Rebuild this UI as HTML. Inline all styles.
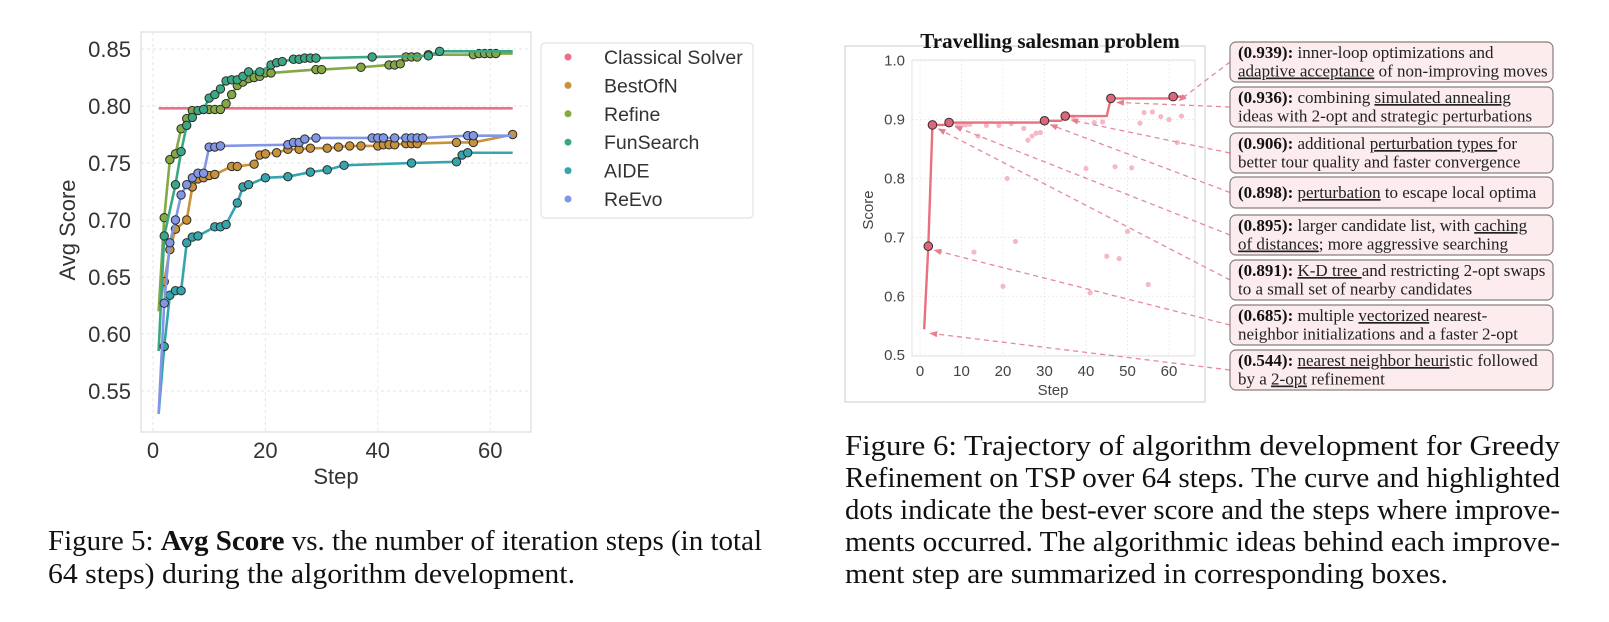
<!DOCTYPE html>
<html><head><meta charset="utf-8"><style>
html,body{margin:0;padding:0;background:#fff;}
svg{display:block;}
.sans{font-family:"Liberation Sans",Arial,sans-serif;}
.serif{font-family:"Liberation Serif","Times New Roman",serif;}
</style></head><body>
<svg id="fig" width="1609" height="622" viewBox="0 0 1609 622" xmlns="http://www.w3.org/2000/svg">
<defs>
<clipPath id="lclip"><rect x="141" y="32" width="390" height="400"/></clipPath>
<marker id="ah" viewBox="0 0 10 10" refX="9" refY="5" markerWidth="6" markerHeight="6" orient="auto-start-reverse"><path d="M0,1 L10,5 L0,9 z" fill="#e87f90"/></marker>
</defs>
<g id="left"></g>
<g id="legend"></g>
<g id="right"></g>
<g id="boxes"></g>
<g class="serif" font-size="28" fill="#111">
<text x="48" y="550" textLength="714" lengthAdjust="spacingAndGlyphs">Figure 5: <tspan font-weight="bold">Avg Score</tspan> vs. the number of iteration steps (in total</text>
<text x="48" y="583" textLength="527" lengthAdjust="spacingAndGlyphs">64 steps) during the algorithm development.</text>
</g>
<g class="serif" font-size="28" fill="#111">
<text x="845" y="455" textLength="715" lengthAdjust="spacingAndGlyphs">Figure 6: Trajectory of algorithm development for Greedy</text>
<text x="845" y="487" textLength="715" lengthAdjust="spacingAndGlyphs">Refinement on TSP over 64 steps. The curve and highlighted</text>
<text x="845" y="519" textLength="715" lengthAdjust="spacingAndGlyphs">dots indicate the best-ever score and the steps where improve-</text>
<text x="845" y="551" textLength="715" lengthAdjust="spacingAndGlyphs">ments occurred. The algorithmic ideas behind each improve-</text>
<text x="845" y="583" textLength="603" lengthAdjust="spacingAndGlyphs">ment step are summarized in corresponding boxes.</text>
</g>
</svg>
<script>
// ---------- Left chart data ----------
const seriesNames = ["Classical Solver","BestOfN","Refine","FunSearch","AIDE","ReEvo"];
const classicalSteps = [1,64];
const classicalVals = [0.798,0.798];
const bestofnSteps = [1,2,3,4,6,7,8,9,10,11,14,15,18,19,20,22,24,26,28,31,33,35,37,40,41,42,43,45,46,47,54,57,64];
const bestofnVals = [0.62,0.646,0.674,0.692,0.700,0.729,0.736,0.737,0.739,0.740,0.747,0.747,0.749,0.757,0.758,0.759,0.762,0.762,0.763,0.763,0.764,0.765,0.765,0.765,0.766,0.766,0.766,0.767,0.767,0.767,0.768,0.768,0.775];
const refineSteps = [1,2,3,4,5,6,7,9,10,11,12,13,14,15,16,17,18,19,20,21,29,30,37,42,43,44,45,46,47,49,57,58,59,60,61,64];
const refineVals = [0.62,0.702,0.753,0.758,0.780,0.789,0.796,0.797,0.797,0.797,0.797,0.802,0.810,0.818,0.821,0.824,0.825,0.826,0.829,0.829,0.832,0.832,0.834,0.836,0.836,0.837,0.843,0.843,0.843,0.845,0.845,0.846,0.846,0.846,0.846,0.846];
const funsearchSteps = [1,2,4,5,6,7,8,9,10,11,12,13,14,15,16,17,19,21,22,23,25,26,27,28,29,39,49,51,64];
const funsearchVals = [0.585,0.686,0.731,0.760,0.783,0.790,0.796,0.797,0.807,0.810,0.815,0.822,0.823,0.823,0.826,0.830,0.830,0.836,0.838,0.839,0.841,0.841,0.842,0.842,0.842,0.843,0.844,0.848,0.848];
const aideSteps = [1,2,3,4,5,6,7,8,11,12,13,15,16,17,20,24,28,31,34,46,54,55,56,64];
const aideVals = [0.53,0.589,0.634,0.638,0.638,0.680,0.685,0.686,0.694,0.694,0.696,0.715,0.729,0.731,0.737,0.738,0.742,0.744,0.748,0.750,0.751,0.757,0.759,0.759];
const reevoSteps = [1,2,3,4,5,6,7,8,9,10,11,12,24,25,26,27,29,39,40,41,43,45,46,47,48,56,57,64];
const reevoVals = [0.53,0.627,0.680,0.700,0.722,0.731,0.737,0.741,0.741,0.764,0.764,0.765,0.766,0.768,0.768,0.771,0.772,0.772,0.772,0.772,0.772,0.772,0.772,0.772,0.772,0.774,0.774,0.774];
const leftXTicks = [0,20,40,60];
const leftYTicks = [0.55,0.60,0.65,0.70,0.75,0.80,0.85];
const leftYTickLabels = ["0.55","0.60","0.65","0.70","0.75","0.80","0.85"];

// ---------- Right chart data ----------
const impSteps = [1,2,3,7,30,35,46,61];
const impVals = [0.544,0.685,0.891,0.895,0.898,0.906,0.936,0.939];
const scatterSteps = [9,10,11,12,13,14,16,19,20,21,22,23,25,26,27,28,29,37,40,41,42,44,45,47,48,50,51,53,54,55,56,58,60,62,63];
const scatterVals = [0.89,0.89,0.891,0.892,0.675,0.872,0.89,0.89,0.617,0.80,0.893,0.693,0.885,0.865,0.872,0.877,0.878,0.904,0.817,0.606,0.895,0.896,0.668,0.82,0.664,0.71,0.818,0.894,0.912,0.62,0.913,0.905,0.90,0.861,0.906];
const rightXTicks = [0,10,20,30,40,50,60];
const rightYTicks = [0.5,0.6,0.7,0.8,0.9,1.0];
const rightYTickLabels = ["0.5","0.6","0.7","0.8","0.9","1.0"];
const boxScores = ["(0.939):","(0.936):","(0.906):","(0.898):","(0.895):","(0.891):","(0.685):","(0.544):"];
const boxTargets = [61,46,35,30,7,3,2,1];

const NS="http://www.w3.org/2000/svg";
function mk(tag, parent, attrs){const e=document.createElementNS(NS,tag);for(const k in attrs)e.setAttribute(k,attrs[k]);parent.appendChild(e);return e;}

// ---------- Left chart ----------
const L=document.getElementById('left');
const lx=s=>153+s*5.62;
const ly=v=>49+(0.85-v)*1140;
const lframe=mk('rect',L,{x:141,y:32,width:390,height:400,fill:'#fff',stroke:'#dcdcdc','stroke-width':1.2});


leftXTicks.forEach(t=>{
  const g=mk('line',L,{x1:lx(t),x2:lx(t),y1:32,y2:432,stroke:'#e6e6e6','stroke-dasharray':'3,3'});
  
  
  const tx=mk('text',L,{x:lx(t),y:458,'text-anchor':'middle','font-size':22,fill:'#333',class:'sans'});
  tx.textContent=t;
  
  
});
leftYTicks.forEach((t,i)=>{
  const g=mk('line',L,{x1:141,x2:531,y1:ly(t),y2:ly(t),stroke:'#e6e6e6','stroke-dasharray':'3,3'});
  
  
  const tx=mk('text',L,{x:131,y:ly(t)+8,'text-anchor':'end','font-size':22,fill:'#333',class:'sans'});
  tx.textContent=leftYTickLabels[i];
  
  
});
const xt=mk('text',L,{x:336,y:484,'text-anchor':'middle','font-size':22,fill:'#333',class:'sans'});
xt.textContent='Step';


const yt=mk('text',L,{x:0,y:0,'text-anchor':'middle','font-size':22,fill:'#333',class:'sans',transform:'translate(75,230) rotate(-90)'});
yt.textContent='Avg Score';



const colors=["#ee6f88","#c8913a","#84a843","#3aa884","#35a5ad","#8296e6"];
const allSteps=[classicalSteps,bestofnSteps,refineSteps,funsearchSteps,aideSteps,reevoSteps];
const allVals=[classicalVals,bestofnVals,refineVals,funsearchVals,aideVals,reevoVals];
const LC=mk('g',L,{'clip-path':'url(#lclip)'});
allSteps.forEach((st,si)=>{
  const g=mk('g',LC,{});
  
  
  const pts=st.map((s,i)=>lx(s)+','+ly(allVals[si][i])).join(' ');
  const pl=mk('polyline',g,{points:pts,fill:'none',stroke:colors[si],'stroke-width':2.6,'stroke-linejoin':'round'});
  
  
  if(si>0){
    st.forEach((s,i)=>{
      if(i===0) return;
      if(i===st.length-1 && si!==1) return;
      const c=mk('circle',g,{cx:lx(s),cy:ly(allVals[si][i]),r:4.2,fill:colors[si],stroke:'#2b2b2b','stroke-width':1});
      
      
    });
  }
});

// ---------- Legend ----------
const LG=document.getElementById('legend');
const lb=mk('rect',LG,{x:541,y:43,width:212,height:175,rx:4,fill:'#fff',stroke:'#e2e2e2','stroke-width':1.2});


seriesNames.forEach((n,i)=>{
  const y=57+i*28.4;
  const g=mk('g',LG,{});
  
  
  mk('circle',g,{cx:568,cy:y,r:3.5,fill:colors[i]});
  const t=mk('text',g,{x:604,y:y+7,'font-size':19.5,fill:'#333',class:'sans'});
  t.textContent=n;
});

// ---------- Right chart ----------
const R=document.getElementById('right');
const rx=s=>920+s*4.15;
const ry=v=>60.7+(1-v)*589;
const of=mk('rect',R,{x:845,y:46,width:360,height:356,fill:'#fff',stroke:'#d6d6d6','stroke-width':1.2});


const pa=mk('rect',R,{x:912,y:60,width:283,height:296,fill:'#fff',stroke:'#e2e2e2','stroke-width':1});


const ttl=mk('text',R,{x:1050,y:48,'text-anchor':'middle','font-size':21,'font-weight':'bold',fill:'#111',class:'serif'});
ttl.textContent='Travelling salesman problem';


rightXTicks.forEach(t=>{
  const g=mk('line',R,{x1:rx(t),x2:rx(t),y1:60,y2:356,stroke:'#ececec','stroke-dasharray':'2,2'});
  
  
  const tx=mk('text',R,{x:rx(t),y:376,'text-anchor':'middle','font-size':15,fill:'#444',class:'sans'});
  tx.textContent=t;
  
  
});
rightYTicks.forEach((t,i)=>{
  const g=mk('line',R,{x1:912,x2:1195,y1:ry(t),y2:ry(t),stroke:'#ececec','stroke-dasharray':'2,2'});
  
  
  const tx=mk('text',R,{x:905,y:ry(t)+5,'text-anchor':'end','font-size':15,fill:'#444',class:'sans'});
  tx.textContent=rightYTickLabels[i];
  
  
});
const rxt=mk('text',R,{x:1053,y:395,'text-anchor':'middle','font-size':15,fill:'#444',class:'sans'});
rxt.textContent='Step';


const ryt=mk('text',R,{x:0,y:0,'text-anchor':'middle','font-size':15,fill:'#444',class:'sans',transform:'translate(873,210) rotate(-90)'});
ryt.textContent='Score';


scatterSteps.forEach((s,i)=>{
  const c=mk('circle',R,{cx:rx(s),cy:ry(scatterVals[i]),r:2.6,fill:'#f5b9c3'});
  
  
});
const bestPts=[];
for(let s=impSteps[0];s<=64;s++){
  let b=impVals[0];
  impSteps.forEach((st,i)=>{if(st<=s) b=impVals[i];});
  bestPts.push(rx(s)+','+ry(b));
}
const bl=mk('polyline',R,{points:bestPts.join(' '),fill:'none',stroke:'#e8707f','stroke-width':2.4,'stroke-linejoin':'round'});


impSteps.forEach((s,i)=>{
  if(i===0) return;
  const c=mk('circle',R,{cx:rx(s),cy:ry(impVals[i]),r:4.3,fill:'#d9687a',stroke:'#3a2a2c','stroke-width':1});
  
  
});

// ---------- Annotation boxes ----------
const B=document.getElementById('boxes');
const boxTops=[42,87,133,177,215,260,305,350];
const boxLines=[
 [[["inner-loop optimizations and",0]],[["adaptive acceptance",1],[" of non-improving moves",0]]],
 [[["combining ",0],["simulated annealing",1]],[["ideas with 2-opt and strategic perturbations",0]]],
 [[["additional ",0],["perturbation types ",1],["for",0]],[["better tour quality and faster convergence",0]]],
 [[["perturbation",1],[" to escape local optima",0]]],
 [[["larger candidate list, with ",0],["caching",1]],[["of distances",1],["; more aggressive searching",0]]],
 [[["K-D tree ",1],["and restricting 2-opt swaps",0]],[["to a small set of nearby candidates",0]]],
 [[["multiple ",0],["vectorized",1],[" nearest-",0]],[["neighbor initializations and a faster 2-opt",0]]],
 [[["nearest neighbor heuri",1],["stic followed",0]],[["by a ",0],["2-opt",1],[" refinement",0]]]
];
boxScores.forEach((sc,i)=>{
  const lines=boxLines[i];
  const h=lines.length===1?31:40;
  const top=boxTops[i];
  const g=mk('g',B,{});
  
  
  const tx=rx(boxTargets[i])+6, tyv=ry(impVals[impSteps.indexOf(boxTargets[i])])+4;
  const ar=mk('line',g,{x1:1230,y1:top+h/2,x2:tx,y2:tyv,stroke:'#e58a99','stroke-width':1.3,'stroke-dasharray':'5,4','marker-end':'url(#ah)'});
  
  
  mk('rect',g,{x:1230,y:top,width:323,height:h,rx:6,fill:'#fcecee',stroke:'#8a7d7f','stroke-width':1.2});
  lines.forEach((ln,li)=>{
    const t=mk('text',g,{x:1238,y:top+(lines.length===1?21:16+li*18.5),'font-size':17,fill:'#222',class:'serif'});
    if(li===0){const s=mk('tspan',t,{'font-weight':'bold',fill:'#111'});s.textContent=sc+' ';}
    ln.forEach(seg=>{
      const s=mk('tspan',t,{});
      if(seg[1]) s.setAttribute('text-decoration','underline');
      s.textContent=seg[0];
    });
  });
});
</script>
</body></html>
